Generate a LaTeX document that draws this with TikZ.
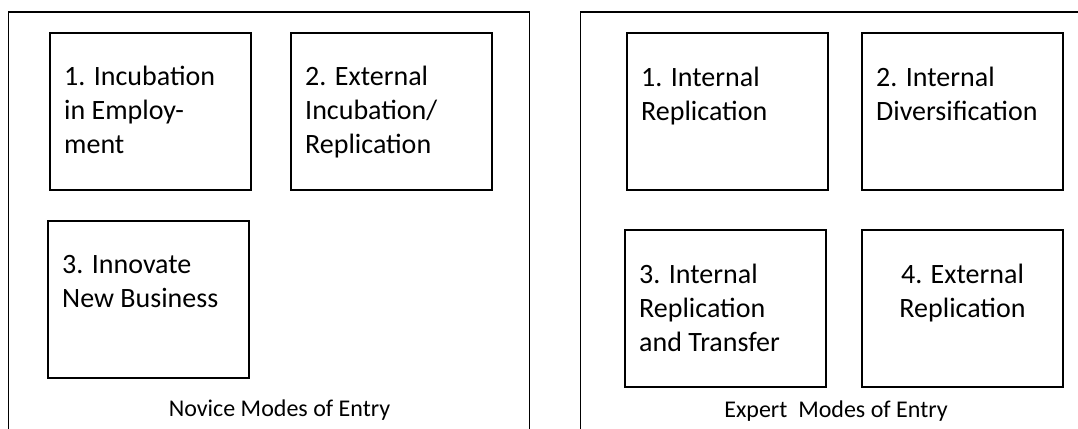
\documentclass[tikz,border=0pt]{standalone}
\usepackage{fontspec}
\setmainfont{Carlito}
\usetikzlibrary{positioning}
\tikzset{frame/.style={draw, line width=1.5pt}}
\tikzset{modebox/.style={draw, line width=1.4pt, minimum width=201pt, minimum height=157pt, inner sep=0pt, outer sep=0pt}}
\tikzset{modetext/.style={inner sep=0pt, align=left, font=\fontsize{28}{34}\selectfont}}
\tikzset{grouplab/.style={inner sep=0pt, font=\fontsize{24}{29}\selectfont}}

\begin{document}
\begin{tikzpicture}[x=1pt, y=-1pt]
	\useasboundingbox[fill=white] (0,0) rectangle (1078,428);
	% the two open frames
	\draw[frame] (8.5,432) -- (8.5,12) -- (529.5,12) -- (529.5,432);
	\draw[frame] (580.5,432) -- (580.5,12) -- (1082,12);
	%
	% novice modes (base = last line)
	\node[modebox, anchor=north west] (nov1) at (50,33) {};
	\node[modebox, right=40pt of nov1] (nov2) {};
	\node[modebox, anchor=north west] (nov3) at (48,221) {};
	\node[modetext, anchor=base west] (nov1t) at ([shift={(14pt,-120pt)}]nov1.north west) {1. Incubation\\in Employ-\\ment};
	\node[modetext, anchor=base west] (nov2t) at ([shift={(14pt,-120pt)}]nov2.north west) {2. External\\Incubation/\\Replication};
	\node[modetext, anchor=base west] (nov3t) at ([shift={(14pt,-86pt)}]nov3.north west) {3. Innovate\\New Business};
	\node[grouplab, anchor=base] (novlab) at (279.5,416.5) {Novice Modes of Entry};
	%
	% expert modes
	\node[modebox, anchor=north west] (exp1) at (627,33) {};
	\node[modebox, right=34pt of exp1] (exp2) {};
	\node[modebox, below=40pt of exp1.south west, anchor=north west, xshift=-2pt] (exp3) {};
	\node[modebox, right=36pt of exp3] (exp4) {};
	\node[modetext, anchor=base west] (exp1t) at ([shift={(14pt,-87pt)}]exp1.north west) {1. Internal\\Replication};
	\node[modetext, anchor=base west] (exp2t) at ([shift={(14pt,-87pt)}]exp2.north west) {2. Internal\\Diversification};
	\node[modetext, anchor=base west] (exp3t) at ([shift={(14pt,-121pt)}]exp3.north west) {3. Internal\\Replication\\and Transfer};
	\node[modetext, align=center, anchor=base] (exp4t) at ([yshift=-87pt]exp4.north) {4. External\\Replication};
	\node[grouplab, anchor=base] (explab) at (836,417) {Expert\ \ Modes of Entry};
\end{tikzpicture}
\end{document}
